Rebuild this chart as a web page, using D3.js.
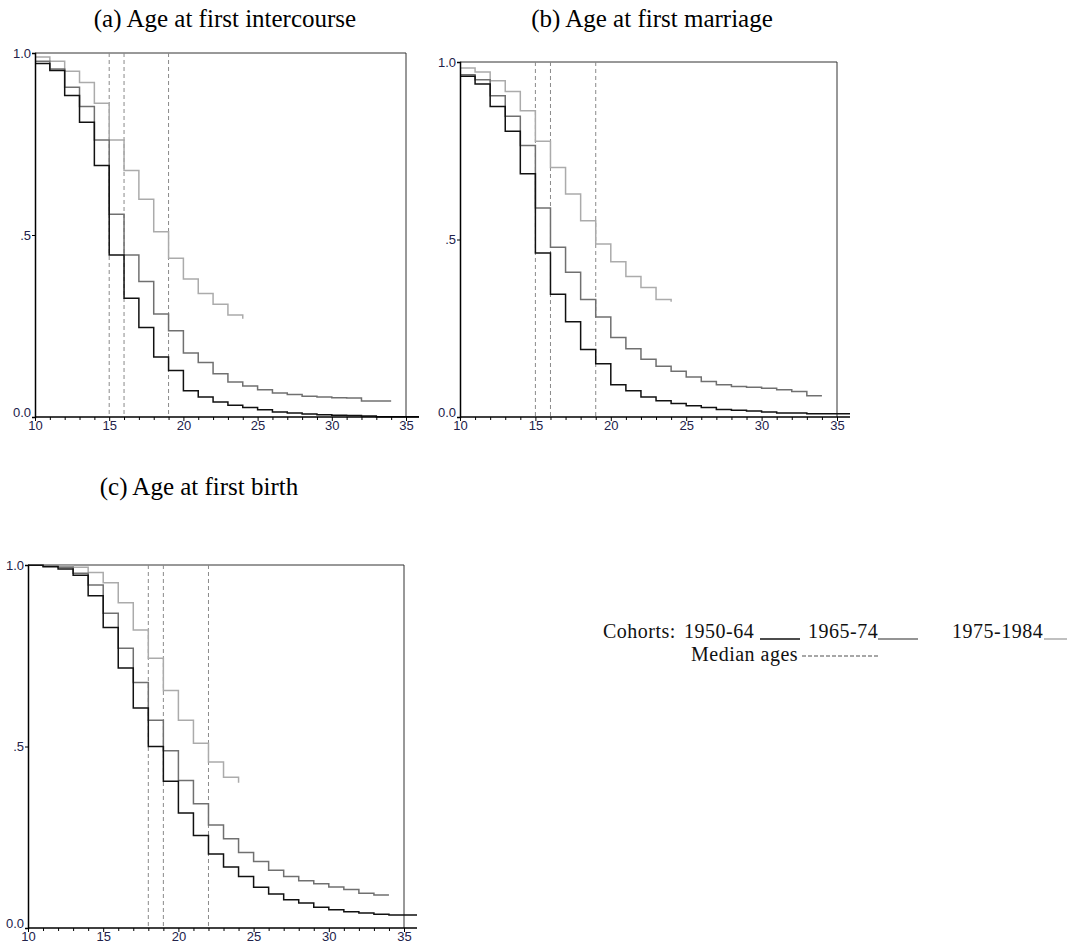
<!DOCTYPE html>
<html>
<head>
<meta charset="utf-8">
<script src="https://cdn.jsdelivr.net/npm/d3@7"></script>
<style>
  body { margin: 0; background: #fff; }
  svg text { font-family: "Liberation Serif", "Times New Roman", serif; }
  .tick-lbl { font-family: "Liberation Sans Narrow", "Liberation Sans", Arial, sans-serif; font-size: 13px; fill: #22224a; }
</style>
</head>
<body>
<svg id="chart" width="1067" height="946"></svg>
<script>
// survival proportions, one value per age starting at 10
var intercourse1950 = [0.971, 0.952, 0.883, 0.810, 0.691, 0.445, 0.326, 0.246, 0.165, 0.128, 0.072, 0.055, 0.041,
                       0.032, 0.026, 0.020, 0.014, 0.011, 0.008, 0.006, 0.005, 0.004, 0.003, 0.001, 0.001, 0.001];
var intercourse1965 = [0.977, 0.956, 0.906, 0.853, 0.761, 0.557, 0.445, 0.372, 0.283, 0.237, 0.176, 0.150, 0.119,
                       0.096, 0.085, 0.075, 0.066, 0.062, 0.057, 0.055, 0.053, 0.052, 0.044, 0.044, 0.044];
var intercourse1975 = [0.989, 0.977, 0.950, 0.919, 0.862, 0.761, 0.677, 0.598, 0.509, 0.436, 0.379, 0.339, 0.310,
                       0.280, 0.270];

var marriage1950 = [0.960, 0.938, 0.875, 0.805, 0.685, 0.462, 0.346, 0.268, 0.190, 0.150, 0.091, 0.074, 0.056,
                    0.046, 0.038, 0.032, 0.027, 0.021, 0.019, 0.017, 0.014, 0.011, 0.011, 0.009, 0.009, 0.009];
var marriage1965 = [0.964, 0.950, 0.905, 0.847, 0.765, 0.589, 0.478, 0.408, 0.331, 0.282, 0.224, 0.192, 0.163,
                    0.143, 0.129, 0.113, 0.100, 0.091, 0.086, 0.084, 0.081, 0.077, 0.072, 0.060, 0.060];
var marriage1975 = [0.983, 0.972, 0.947, 0.917, 0.863, 0.777, 0.703, 0.628, 0.553, 0.487, 0.437, 0.396, 0.365,
                    0.331, 0.325];

var birth1950 = [0.999, 0.995, 0.989, 0.972, 0.915, 0.828, 0.716, 0.606, 0.500, 0.404, 0.317, 0.255, 0.204,
                 0.168, 0.142, 0.112, 0.094, 0.078, 0.069, 0.057, 0.050, 0.045, 0.041, 0.038, 0.036, 0.036];
var birth1965 = [0.999, 0.997, 0.994, 0.977, 0.945, 0.867, 0.771, 0.676, 0.572, 0.488, 0.406, 0.342, 0.284,
                 0.246, 0.208, 0.183, 0.159, 0.142, 0.130, 0.122, 0.113, 0.106, 0.096, 0.091, 0.091];
var birth1975 = [1.000, 0.998, 0.997, 0.994, 0.979, 0.951, 0.896, 0.821, 0.743, 0.654, 0.572, 0.509, 0.457,
                 0.415, 0.400];

var medIntercourse = [15, 16, 19],
    medMarriage    = [15, 16, 19],
    medBirth       = [18, 19, 22];

var cohorts  = ["1950-64", "1965-74", "1975-1984"];
var xTicks   = [10, 15, 20, 25, 30, 35];
var yTicks   = [0, 0.5, 1];
var yLabels  = ["0.0", ".5", "1.0"];
var startAge = 10;

var colors = ["#111111", "#707070", "#ababab"];

var svg = d3.select("#chart");

var panels = [
    { title: "(a) Age at first intercourse", tx: 225, ty: 27,
      left: 35, right: 406, top: 53, bottom: 417,
      series: [intercourse1950, intercourse1965, intercourse1975], medians: medIntercourse },
    { title: "(b) Age at first marriage", tx: 652, ty: 27,
      left: 460, right: 837, top: 62, bottom: 417,
      series: [marriage1950, marriage1965, marriage1975], medians: medMarriage },
    { title: "(c) Age at first birth", tx: 199, ty: 495,
      left: 28, right: 404, top: 565, bottom: 928,
      series: [birth1950, birth1965, birth1975], medians: medBirth }
];

panels.forEach(p => drawPanel(p));
drawLegend();


function drawPanel(p) {

    var x = d3.scaleLinear().domain([10, 35]).range([p.left, p.right]);
    var y = d3.scaleLinear().domain([0, 1]).range([p.bottom, p.top]);
    var axisEnd = p.right + 13;

    var g = svg.append("g");

    g.append("text")
     .attr("x", p.tx)
     .attr("y", p.ty)
     .attr("text-anchor", "middle")
     .style("font-size", "25px")
     .text(p.title);

    // top and right frame
    g.append("path")
     .attr("d", "M" + x(10) + "," + y(1) + "H" + x(35) + "V" + y(0))
     .attr("fill", "none")
     .attr("stroke", "#333")
     .attr("stroke-width", 1);

    // median ages
    g.selectAll(".median")
     .data(p.medians)
     .enter()
     .append("line")
     .attr("class", "median")
     .attr("x1", d => x(d))
     .attr("x2", d => x(d))
     .attr("y1", y(1))
     .attr("y2", y(0))
     .attr("stroke", "#8a8a8a")
     .attr("stroke-width", 1)
     .attr("stroke-dasharray", "4,3");

    var line = d3.line()
                 .x(d => d[0])
                 .y(d => y(d[1]))
                 .curve(d3.curveStepAfter);

    // draw lighter cohorts first so the black one sits on top
    p.series.slice().reverse().forEach((s, k) => {
        var i = p.series.length - 1 - k;
        var pts = s.map((v, j) => [x(startAge + j), v]);
        if (i === 0) pts.push([axisEnd, s[s.length - 1]]);
        g.append("path")
         .attr("d", line(pts))
         .attr("fill", "none")
         .attr("stroke", colors[i])
         .attr("stroke-width", 1.5);
    });

    // x axis
    var xAxis = d3.axisBottom(x)
                  .tickValues(d3.range(10, 36))
                  .tickSize(3)
                  .tickFormat(d => xTicks.indexOf(d) > -1 ? d : "");

    var gx = g.append("g")
              .attr("transform", "translate(0," + y(0) + ")")
              .call(xAxis);
    gx.select(".domain").remove();
    gx.selectAll(".tick line").attr("stroke", "#000").attr("y2", d => d % 5 === 0 ? 4 : 3);
    gx.selectAll(".tick text")
      .attr("class", "tick-lbl")
      .attr("y", 4)
      .attr("dy", "0.71em");
    gx.attr("font-size", null).attr("font-family", null);

    g.append("line")
     .attr("x1", x(10))
     .attr("x2", axisEnd)
     .attr("y1", y(0))
     .attr("y2", y(0))
     .attr("stroke", "#000")
     .attr("stroke-width", 1.5);

    // y axis
    var yAxis = d3.axisLeft(y)
                  .tickValues(yTicks)
                  .tickSize(3)
                  .tickFormat((d, i) => yLabels[i]);

    var gy = g.append("g")
              .attr("transform", "translate(" + x(10) + ",0)")
              .call(yAxis);
    gy.select(".domain").attr("stroke", "#000").attr("stroke-width", 1.5);
    gy.selectAll(".tick text")
      .attr("class", "tick-lbl")
      .attr("x", -4)
      .attr("dy", d => d === 0 ? "-0.05em" : "0.32em");
    gy.attr("font-size", null).attr("font-family", null);
}


function drawLegend() {

    var lg = svg.append("g")
                .style("font-size", "20px")
                .style("letter-spacing", "0.5px")
                .attr("fill", "#111");

    var row1 = 638, row2 = 661;

    lg.append("text").attr("x", 603).attr("y", row1).text("Cohorts:");

    var labelX = [684, 808, 952],
        ruleX  = [[760, 800], [878, 918], [1044, 1067]];

    cohorts.forEach((c, i) => {
        lg.append("text")
          .attr("x", labelX[i])
          .attr("y", row1)
          .text(c);
        lg.append("line")
          .attr("x1", ruleX[i][0])
          .attr("x2", ruleX[i][1])
          .attr("y1", row1 + 1)
          .attr("y2", row1 + 1)
          .attr("stroke", colors[i])
          .attr("stroke-width", 1.5);
    });

    lg.append("text").attr("x", 691).attr("y", row2).text("Median ages");

    lg.append("line")
      .attr("x1", 802)
      .attr("x2", 880)
      .attr("y1", row2 - 5)
      .attr("y2", row2 - 5)
      .attr("stroke", "#8a8a8a")
      .attr("stroke-width", 1.5)
      .attr("stroke-dasharray", "4,2");
}
</script>
</body>
</html>
